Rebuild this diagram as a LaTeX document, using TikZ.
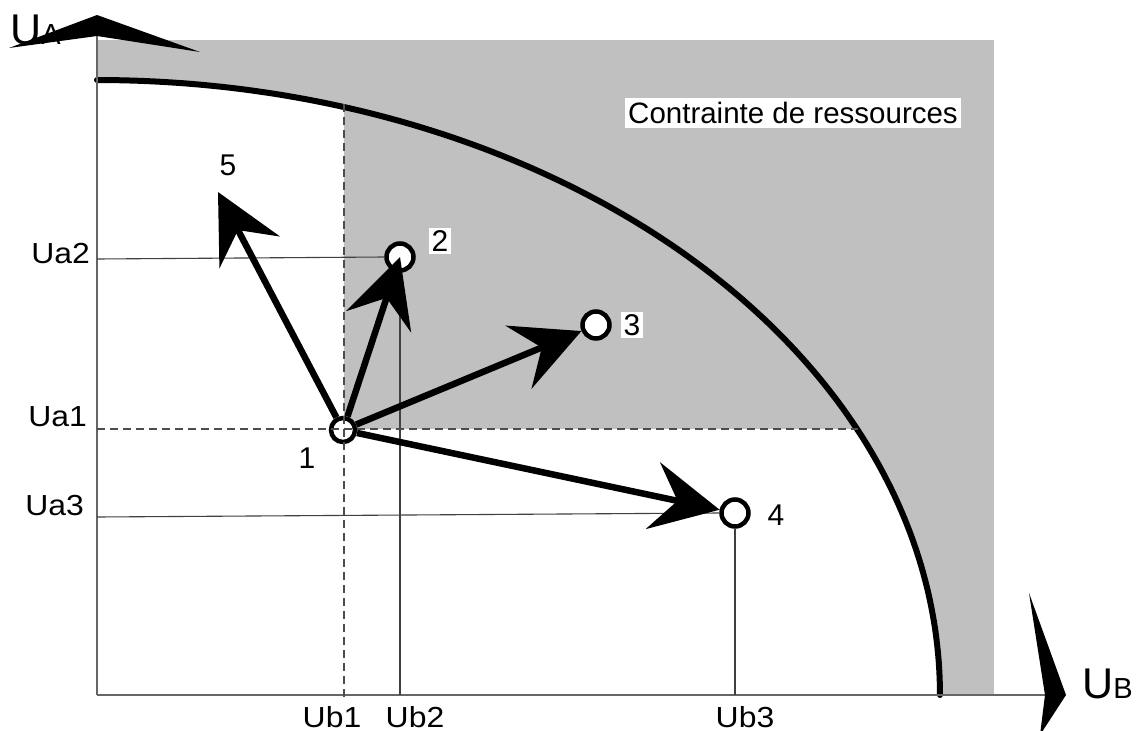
\documentclass[tikz,border=0pt]{standalone}
\usepackage{fontspec}
\setmainfont{Liberation Sans}
\newfontfamily\lblfont[FakeStretch=1.1]{Liberation Sans}
\usetikzlibrary{arrows.meta}
\definecolor{hatch}{RGB}{192,192,192}
\begin{document}
\begin{tikzpicture}[x=1pt,y=-1pt,
  ptbox/.style={circle,draw=black,line width=4.5pt,fill=white,minimum size=27pt,inner sep=0pt},
  vec/.style={line width=6.5pt,-{Stealth[length=68pt,width=68pt,inset=25pt]}},
  guide/.style={black!75,line width=1.1pt},
  guidedash/.style={black!70,line width=1.5pt,dash pattern=on 8pt off 5pt},
  axisline/.style={black!60,line width=1.5pt},
  axlbl/.style={inner sep=0pt,font=\fontsize{29}{30}\lblfont},
  digit/.style={inner sep=2.5pt,font=\fontsize{30}{31}\selectfont},
  chev/.style={fill=black}
]
\useasboundingbox[fill=white] (0,0) rectangle (1144,731);

% shaded regions
\fill[hatch] (97,40) rectangle (994,695);
\fill[white] (97,695) -- plot[domain=0:90,samples=120] ({97+843*sin(\x)},{695-615*cos(\x)}) -- cycle;
\begin{scope}
  \clip (344,0) rectangle (1144,428);
  \fill[hatch] (97,695) -- plot[domain=0:90,samples=120] ({97+843*sin(\x)},{695-615*cos(\x)}) -- cycle;
\end{scope}

% frontier curve
\draw[line width=6pt,line cap=round] plot[domain=0:90,samples=120] ({97+843*sin(\x)},{695-615*cos(\x)});

% axes
\coordinate (O) at (97,695);
\coordinate (ytop) at (97,36);
\coordinate (xend) at (1045,695);
\draw[axisline] (O) -- (ytop);
\draw[axisline] (O) -- (xend);

% axis labels and arrowheads
\node[anchor=base west,inner sep=0pt] (UA) at (10,44) {\fontsize{43}{43}\selectfont U\fontsize{29}{29}\selectfont A};
\node[anchor=base west,inner sep=0pt] (UB) at (1082,698) {\fontsize{43}{43}\selectfont U\fontsize{29}{29}\selectfont B};
\fill[chev] (9,48) -- (97,15) -- (200,52) -- (97,36) -- cycle;
\fill[chev] (1029,593) -- (1066,695) -- (1040,735) -- (1045,695) -- cycle;

% points
\node[ptbox] (p2) at (400,257) {};
\node[ptbox] (p3) at (596,325) {};
\node[ptbox] (p4) at (735,513) {};
\node[ptbox,minimum size=24pt] (p1) at (343,430) {};
\coordinate (c5) at (218,192);

% reference lines
\coordinate (a2) at (97,259);
\coordinate (a3) at (97,517);
\coordinate (b2) at (400,695);
\coordinate (b3) at (735,695);
\coordinate (a1) at (97,429);
\coordinate (a1e) at (858,429);
\coordinate (b1t) at (344,104);
\coordinate (b1) at (344,698);
\draw[guide] (a2) -- (p2.west);
\draw[guide] (p2.south) -- (b2);
\draw[guide] (a3) -- (p4.west);
\draw[guide] (p4.south) -- (b3);
\draw[guidedash] (a1) -- (a1e);
\draw[guidedash] (b1t) -- (b1);

% vectors
\draw[vec] (p1) -- (c5);
\draw[vec] (p1) -- (p2.center);
\draw[vec] (p1) -- (p3);
\draw[vec] (p1) -- (p4);

% axis tick labels
\node[axlbl,anchor=base east] (Ua2) at (90,263) {Ua2};
\node[axlbl,anchor=base east] (Ua1) at (87,426) {Ua1};
\node[axlbl,anchor=base east] (Ua3) at (84,515) {Ua3};
\node[axlbl,anchor=base] (Ub1) at (332,727) {Ub1};
\node[axlbl,anchor=base] (Ub2) at (415,727) {Ub2};
\node[axlbl,anchor=base] (Ub3) at (745,727) {Ub3};

% point labels
\node[digit] (l1) at (307,458) {1};
\node[digit,fill=white] (l2) at (440,241) {2};
\node[digit,fill=white] (l3) at (632,325) {3};
\node[digit] (l4) at (776,515) {4};
\node[digit] (l5) at (228,165) {5};

% region label
\node[fill=white,inner xsep=3pt,inner ysep=4pt,font=\fontsize{29.5}{31}\selectfont] (cr) at (793,113) {Contrainte de ressources};
\end{tikzpicture}
\end{document}
